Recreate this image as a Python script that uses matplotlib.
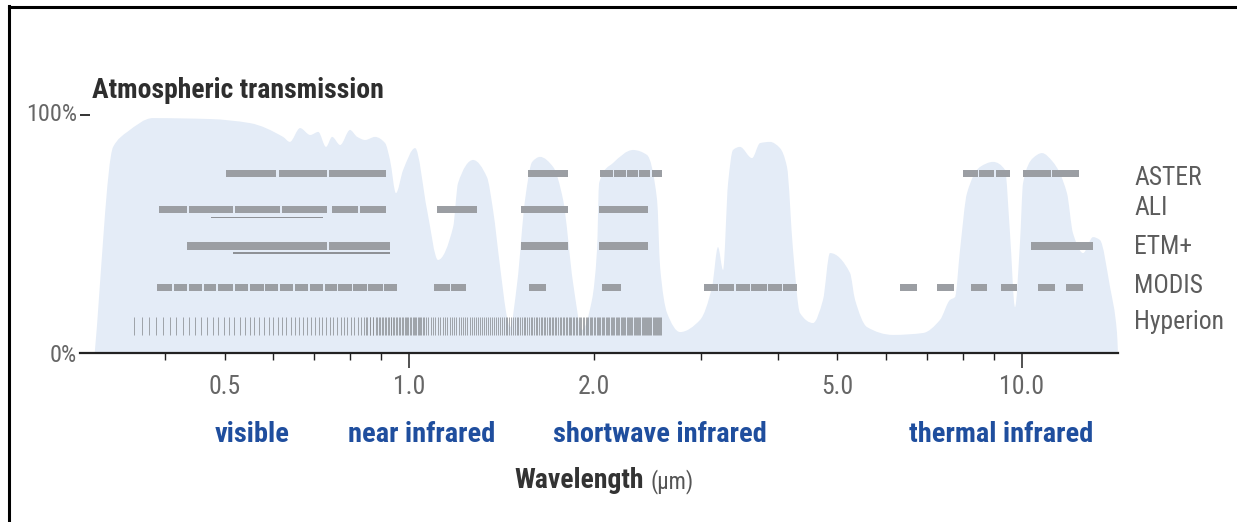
import numpy as np
import matplotlib.pyplot as plt
from matplotlib import font_manager as fm
from matplotlib.lines import Line2D
from matplotlib.path import Path
from matplotlib.patches import PathPatch
from matplotlib.transforms import blended_transform_factory

# atmospheric transmission (wavelength in um, transmission in %)
wl = [0.307, 0.329, 0.347, 0.382, 0.474, 0.550, 0.623, 0.639, 0.664, 0.690,
      0.711, 0.732, 0.749, 0.772, 0.801, 0.823, 0.848, 0.880, 0.914, 0.931,
      0.952, 0.978, 1.023, 1.070, 1.115, 1.180, 1.202, 1.272, 1.340, 1.371,
      1.408, 1.445, 1.461, 1.501, 1.546, 1.588, 1.636, 1.718, 1.784, 1.852,
      1.915, 1.988, 2.026, 2.042, 2.151, 2.320, 2.445, 2.539, 2.568, 2.636,
      2.768, 2.984, 3.121, 3.192, 3.253, 3.315, 3.377, 3.467, 3.627, 3.738,
      3.881, 4.029, 4.136, 4.231, 4.343, 4.561, 4.735, 4.861, 5.242, 5.342,
      5.587, 6.160, 6.895, 7.349, 7.630, 7.775, 7.923, 8.134, 8.545, 8.971,
      9.383, 9.559, 9.741, 9.924, 10.04, 10.42, 10.78, 11.23, 11.84, 12.11,
      12.58, 13.06, 13.40, 13.92, 14.29, 14.34]
trans = [0, 86.6, 92.9, 98.7, 98.3, 96.6, 90.8, 88.7, 94.5, 91.6,
         92.9, 86.6, 90.8, 87.4, 93.7, 90.8, 89.5, 90.8, 88.2, 81.1,
         67.2, 76.9, 86.1, 60.1, 39.1, 52.9, 71.4, 81.1, 73.9, 60.1,
         36.1, 15.1, 10.9, 29.4, 64.3, 80.3, 82.4, 78.2, 64.3, 29.4,
         9.7, 22.3, 43.3, 71.4, 79.8, 85.3, 83.2, 64.3, 36.1, 16.8,
         8.8, 13.9, 27.7, 44.5, 34.9, 71.4, 85.3, 86.6, 81.9, 88.2,
         88.7, 86.1, 78.2, 43.3, 16.8, 12.6, 22.3, 42.0, 33.6, 22.3,
         10.9, 7.6, 8.4, 13.9, 22.3, 23.5, 43.3, 67.2, 78.2, 80.3,
         76.9, 50.4, 19.3, 46.2, 71.4, 81.9, 84.0, 80.3, 67.2, 50.4,
         42.0, 48.7, 47.5, 27.7, 8.4, 0]

# sensor bands (start, stop) in um
aster = [(0.503, 0.607), (0.614, 0.735), (0.741, 0.917), (1.564, 1.817),
         (2.049, 2.148), (2.160, 2.255), (2.268, 2.359), (2.372, 2.473),
         (2.487, 2.587), (8.013, 8.464), (8.512, 9.018), (9.070, 9.559),
         (10.04, 11.15), (11.21, 12.39)]
ali = [(0.391, 0.434), (0.438, 0.516), (0.520, 0.616), (0.621, 0.735),
       (0.749, 0.826), (0.832, 0.917), (1.111, 1.291), (1.523, 1.817),
       (2.042, 2.455)]
ali_pan = (0.475, 0.724)
etm = [(0.434, 0.735), (0.741, 0.931), (1.523, 1.817), (2.042, 2.455),
       (10.34, 13.06)]
etm_pan = (0.516, 0.931)
modis = [(0.388, 0.411), (0.413, 0.435), (0.438, 0.459), (0.462, 0.484),
         (0.487, 0.517), (0.520, 0.547), (0.550, 0.579), (0.582, 0.612),
         (0.616, 0.647), (0.652, 0.685), (0.690, 0.723), (0.728, 0.762),
         (0.767, 0.806), (0.811, 0.853), (0.858, 0.906), (0.911, 0.957),
         (1.098, 1.167), (1.171, 1.239), (1.570, 1.673), (2.065, 2.217),
         (3.028, 3.192), (3.204, 3.390), (3.415, 3.600), (3.613, 3.837),
         (3.851, 4.060), (4.075, 4.295), (6.324, 6.742), (7.266, 7.746),
         (8.257, 8.768), (9.243, 9.813), (10.62, 11.32), (11.80, 12.58)]
# Hyperion: VNIR 356-1058 nm (70 bands), SWIR 852-2577 nm (172 bands)
hyp_vnir = (0.356, 1.058, 70)
hyp_swir = (0.852, 2.577, 172)

tick_vals = [0.5, 1.0, 2.0, 5.0, 10.0]
tick_text = ['0.5', '1.0', '2.0', '5.0', '10.0']
regions = ['visible', 'near infrared', 'shortwave infrared', 'thermal infrared']
sensors = ['ASTER', 'ALI', 'ETM+', 'MODIS', 'Hyperion']

# pick the narrowest sans that is installed
fonts = fm.fontManager.ttflist
FAM, STRETCH = 'DejaVu Sans', 'normal'
for n in ['Liberation Sans Narrow', 'Roboto Condensed', 'Open Sans Condensed',
          'Noto Sans Condensed', 'DejaVu Sans Condensed', 'Arial Narrow']:
    if any(f.name == n for f in fonts):
        FAM = n
        break
else:
    for n in ['Noto Sans', 'Open Sans', 'Roboto', 'DejaVu Sans', 'Inter', 'Lato']:
        if any(f.name == n and 'condensed' in str(f.stretch) for f in fonts):
            FAM, STRETCH = n, 'condensed'
            break
FONT = dict(family=[FAM, 'DejaVu Sans'], fontstretch=STRETCH)

W, H = 1237, 522
fig = plt.figure(figsize=(W / 100, H / 100), dpi=100)
renderer = fig.canvas.get_renderer()


def fx(px):
    return px / W


def fy(py):
    return 1 - py / H


def fit(t, target):
    w = t.get_window_extent(renderer).width
    t.set_fontsize(t.get_fontsize() * target / w)
    return t.get_fontsize()


ax = fig.add_axes([fx(80), fy(353), fx(1118) - fx(80), fy(115) - fy(353)])
ax.set_xscale('log')
ax.set_xlim(0.2905, 14.343)
ax.set_ylim(0, 100)

# smooth outline through the read points (monotone cubic in log-x space)
lx = np.log10(wl)
ty = np.array(trans, dtype=float)
h = np.diff(lx)
d = np.diff(ty) / h
m = np.zeros_like(ty)
m[0], m[-1] = d[0], d[-1]
for k in range(1, len(ty) - 1):
    if d[k - 1] * d[k] > 0:
        m[k] = 3 * (h[k - 1] + h[k]) / ((2 * h[k] + h[k - 1]) / d[k - 1]
                                        + (h[k] + 2 * h[k - 1]) / d[k])
verts = [(wl[0], ty[0])]
codes = [Path.MOVETO]
for k in range(len(ty) - 1):
    c1 = (10 ** (lx[k] + h[k] / 3), ty[k] + m[k] * h[k] / 3)
    c2 = (10 ** (lx[k + 1] - h[k] / 3), ty[k + 1] - m[k + 1] * h[k] / 3)
    verts += [c1, c2, (wl[k + 1], ty[k + 1])]
    codes += [Path.CURVE4] * 3
verts.append(verts[0])
codes.append(Path.CLOSEPOLY)
ax.add_patch(PathPatch(Path(verts, codes), facecolor='#e4ecf7', lw=0, zorder=1))

bar_c = '#9b9ea3'
bar_h = 3.1
rows = [(aster, 75.3), (ali, 60.2), (etm, 45.0), (modis, 27.6)]
for bands, yy in rows:
    lefts = [a for a, b in bands]
    widths = [b - a for a, b in bands]
    ax.barh([yy] * len(bands), widths, left=lefts, height=bar_h,
            color=bar_c, lw=0, zorder=3)
for (a, b), yy in [(ali_pan, 57.0), (etm_pan, 41.9)]:
    ax.barh(yy, b - a, left=a, height=0.7, color='#8e9196', lw=0, zorder=3)

hyp = np.concatenate([np.linspace(*hyp_vnir), np.linspace(*hyp_swir)])
ax.vlines(hyp, 7.6, 15.1, color='#8c8f94', lw=0.7, alpha=0.8, zorder=3)

for s in ['top', 'right', 'left']:
    ax.spines[s].set_visible(False)
ax.spines['bottom'].set_linewidth(1.6)
ax.spines['bottom'].set_color('#222222')

ax.set_xticks([1.0, 10.0])
ax.set_xticks([0.4, 0.5, 0.6, 0.7, 0.8, 0.9, 2, 3, 4, 5, 6, 7, 8, 9], minor=True)
ax.tick_params(axis='x', which='major', direction='out', length=11, width=1.1,
               color='#222222', labelbottom=False)
ax.tick_params(axis='x', which='minor', direction='out', length=5, width=1.0,
               color='#222222', labelbottom=False)
ax.set_yticks([0, 100])
ax.tick_params(axis='y', direction='in', length=7, width=1.4, color='#333333',
               labelleft=False)

tr = blended_transform_factory(ax.transData, fig.transFigure)
tick_objs = [ax.text(v, fy(387), t, transform=tr, ha='center', va='center',
                     fontsize=17, color='#666666', **FONT)
             for v, t in zip(tick_vals, tick_text)]
size = fit(tick_objs[-1], 45)
for t in tick_objs:
    t.set_fontsize(size)

t100 = fig.text(fx(77), fy(114), '100%', ha='right', va='center', fontsize=17,
                color='#666666', **FONT)
size = fit(t100, 51)
fig.text(fx(77), fy(356), '0%', ha='right', va='center', fontsize=size,
         color='#666666', **FONT)

title = fig.text(fx(92), fy(98), 'Atmospheric transmission', ha='left',
                 va='baseline', fontsize=19.5, fontweight='bold',
                 color='#2e2e2e', **FONT)
fit(title, 293)

label_y = [178, 208, 247, 286, 322]
lab_objs = [fig.text(fx(1134), fy(py), name, ha='left', va='center',
                     fontsize=17, color='#5c5c5c', **FONT)
            for name, py in zip(sensors, label_y)]
size = fit(lab_objs[-1], 90)
for t in lab_objs:
    t.set_fontsize(size)

region_x = [252, 422, 660, 1001]
reg_objs = [fig.text(fx(px), fy(434), name, ha='center', va='center',
                     fontsize=19.5, fontweight='bold', color='#1f4e9e', **FONT)
            for name, px in zip(regions, region_x)]
size = fit(reg_objs[2], 214)
for t in reg_objs:
    t.set_fontsize(size)

wlab = fig.text(fx(644), fy(488), 'Wavelength', ha='right', va='baseline',
                fontsize=19.5, fontweight='bold', color='#333333', **FONT)
fit(wlab, 130)
unit = fig.text(fx(650), fy(488), '(\u00b5m)', ha='left', va='baseline',
                fontsize=18, color='#555555', **FONT)
fit(unit, 43)

# frame lines top and left
fig.add_artist(Line2D([fx(8.5), 1], [fy(7), fy(7)], color='black', lw=2.2))
fig.add_artist(Line2D([fx(8.5), fx(8.5)], [fy(6), 0], color='black', lw=2.2))

fig.savefig('out.png', dpi=100)
